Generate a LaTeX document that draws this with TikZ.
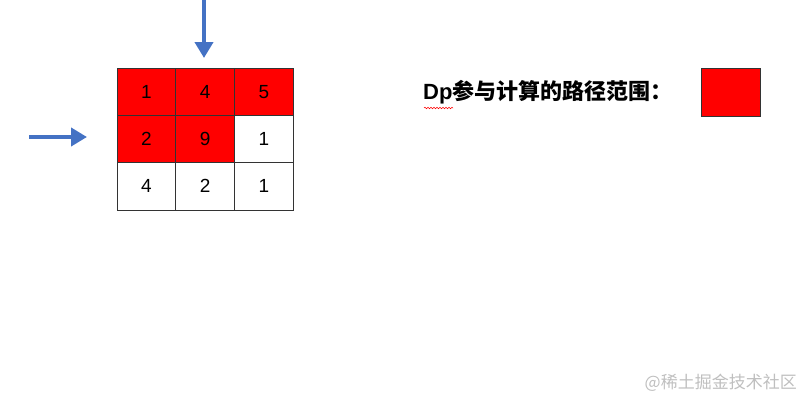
\documentclass[tikz,border=0pt]{standalone}
\usepackage{fontspec}
\setmainfont{Liberation Sans}
\newfontfamily\cjk{Noto Sans CJK SC}
\usetikzlibrary{arrows.meta,decorations.pathmorphing}
\definecolor{cellred}{RGB}{255,0,0}
\definecolor{arrowblue}{RGB}{68,114,196}
\begin{document}
\begin{tikzpicture}[x=1pt,y=-1pt]
\tikzset{cell/.style={draw=black!80,line width=0.8pt,minimum width=58.7pt,minimum height=47.3pt,inner sep=0pt,font=\fontsize{19}{19}\selectfont},
  hot/.style={cell,fill=cellred},
  bluearrow/.style={draw=arrowblue,line width=4pt,-{Triangle[width=18pt,length=16pt]}}}
\useasboundingbox (0,0) rectangle (812,407);
% the grid
\node [hot] (c11) at (146.5,91.7) {1};
\node [hot] (c12) at (205.2,91.7) {4};
\node [hot] (c13) at (264,91.7) {5};
\node [hot] (c21) at (146.5,139) {2};
\node [hot] (c22) at (205.2,139) {9};
\node [cell] (c23) at (264,139) {1};
\node [cell] (c31) at (146.5,186.3) {4};
\node [cell] (c32) at (205.2,186.3) {2};
\node [cell] (c33) at (264,186.3) {1};
% arrows
\coordinate (downtail) at (204,0);
\coordinate (downtip) at (204,58);
\coordinate (lefttail) at (29,137);
\coordinate (lefttip) at (87,137);
\draw [bluearrow] (downtail) -- (downtip);
\draw [bluearrow] (lefttail) -- (lefttip);
% legend
\node [anchor=west,inner sep=0pt,font=\bfseries\fontsize{22}{22}\selectfont] (legendtext) at (423,92) {Dp{\cjk 参与计算的路径范围：}};
\draw [red,line width=0.5pt,decorate,decoration={snake,amplitude=0.8pt,segment length=3pt}] (424,108) -- (453,108);
\node [draw=black!80,line width=0.8pt,fill=cellred,minimum width=59pt,minimum height=48pt,inner sep=0pt] (legendbox) at (730.5,92) {};
% watermark
\node [anchor=east,inner sep=0pt,text=black!25,font=\cjk\fontsize{17}{17}\selectfont] (mark) at (797,383) {@稀土掘金技术社区};
\end{tikzpicture}
\end{document}
